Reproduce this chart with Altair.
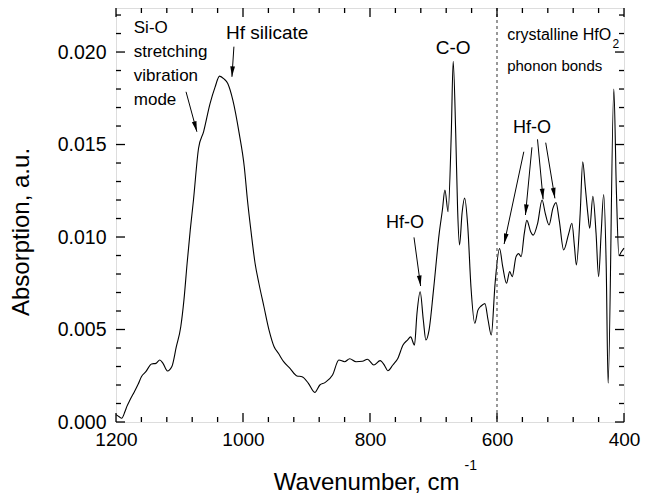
import math
import altair as alt
import pandas as pd

# ---- spectrum (wavenumber cm^-1, absorption a.u.) ----
wavenumber = [1200, 1195, 1191, 1186, 1183, 1178, 1171, 1165, 1160, 1153, 1144, 1137, 1131, 1126,
              1119, 1112, 1105, 1098, 1093, 1088, 1083, 1078, 1070, 1062, 1052, 1044, 1037, 1030,
              1024, 1016, 1006, 998, 993, 987, 981, 975, 967, 959, 951, 944, 936, 926, 915, 907,
              897, 887, 879, 871, 859, 849, 840, 832, 822, 812, 804, 794, 784, 777, 772, 764, 756,
              748, 741, 736, 730, 726, 721, 716, 712, 707, 700, 691, 686, 682, 677, 672, 669, 665,
              662, 659, 655, 651, 646, 641, 635, 630, 625, 619, 614, 609, 603, 596, 591, 585, 580,
              576, 570, 566, 562, 557, 553, 547, 543, 536, 529, 524, 518, 512, 507, 502, 495, 487,
              482, 478, 475, 469, 465, 461, 457, 454, 449, 444, 440, 436, 432, 428, 425, 416, 412,
              408, 404, 400]
absorption_milli = [0.40, 0.28, 0.20, 0.55, 0.83, 1.19, 1.64, 2.05, 2.45, 2.72, 3.14, 3.17, 3.35, 3.17,
                    2.76, 3.00, 4.07, 5.15, 6.6, 8.58, 10.4, 12.0, 14.8, 15.7, 17.2, 18.1, 18.7, 18.55,
                    18.3, 17.4, 15.6, 13.8, 12.0, 10.2, 8.58, 7.5, 6.23, 4.97, 4.07, 3.7, 3.26, 2.9, 2.49, 2.45,
                    2.09, 1.6, 2.0, 2.13, 2.54, 3.35, 3.26, 3.42, 3.26, 3.28, 3.39, 3.08, 3.32, 3.05, 2.77, 3.08, 3.45,
                    4.16, 4.43, 4.6, 4.16, 5.88, 7.04, 5.5, 4.43, 4.97, 7.13, 10.2, 11.46, 12.54, 11.37, 15.6, 19.5, 15.6,
                    11.46, 9.57, 11.3, 12.1, 10.56, 7.3, 5.34, 6.05, 6.27, 6.4, 5.5, 4.7, 7.5, 9.38, 8.4, 7.5, 8.13,
                    7.86, 8.94, 9.1, 8.94, 10.2, 10.9, 10.29, 10.1, 10.74, 12.0, 11.28, 10.65, 11.55, 11.86, 10.9, 9.3, 10.2,
                    10.74, 9.48, 8.49, 11.28, 14.07, 12.72, 11.28, 10.47, 12.2, 10.2, 7.86, 10.2, 12.3, 8.4, 2.1, 18.0, 12.5,
                    9.0, 9.2, 9.4]

# ---- axes ----
x_domain = [1200, 400]
y_domain = [0, 0.02238]
x_major = [1200, 1000, 800, 600, 400]
x_minor = [v for v in range(1160, 400, -40) if v not in x_major]
y_major = [0.0, 0.005, 0.010, 0.015, 0.020]
y_minor = [round(i * 0.001, 3) for i in range(1, 23) if i % 5 != 0]

# ---- annotations ----
label_text = ["Si-O", "stretching", "vibration", "mode", "Hf silicate", "C-O", "Hf-O", "Hf-O",
              "crystalline HfO", "phonon bonds", "2"]
label_x = [1172, 1172, 1172, 1172, 962, 669, 745, 545, 584, 584, 418]
label_y = [0.0213, 0.0200, 0.0187, 0.01741, 0.02103, 0.0202, 0.01077, 0.01588, 0.02092, 0.01924, 0.02045]
label_size = [17, 17, 17, 17, 19, 19, 18, 18, 16, 15, 12]
label_align = ["left", "left", "left", "left", "center", "center", "center", "center", "left", "left", "left"]

arrow_x1 = [1089.7, 1014.3, 730.7, 557.8, 545.0, 536.2, 523.3]
arrow_y1 = [0.01785, 0.02029, 0.00998, 0.01461, 0.01485, 0.01528, 0.01510]
arrow_x2 = [1072.6, 1017.4, 720.3, 588.8, 555.2, 527.4, 508.8]
arrow_y2 = [0.01569, 0.01866, 0.00735, 0.00962, 0.01119, 0.01204, 0.01209]

W, H = 508, 414
FONT = "Liberation Sans"

spec = pd.DataFrame({"w": wavenumber, "a": [v / 1000 for v in absorption_milli]})

xs = alt.Scale(domain=x_domain, nice=False, zero=False)
ys = alt.Scale(domain=y_domain, nice=False, zero=False)

x_axis = alt.Axis(values=x_major, ticks=False, domain=False, grid=False, labelFontSize=19,
                  labelPadding=8, title=None, format="d", labelFont=FONT, labelColor="black",
                  labelFlush=False, labelOverlap=False)
y_axis = alt.Axis(values=y_major, ticks=False, domain=False, grid=False, labelFontSize=19.5,
                  labelPadding=10, title=None, format=".3f", labelFont=FONT, labelColor="black",
                  labelFlush=False, labelOverlap=False)

line = alt.Chart(spec).mark_line(color="black", strokeWidth=1.1, interpolate="monotone").encode(
    x=alt.X("w:Q", scale=xs, axis=x_axis),
    y=alt.Y("a:Q", scale=ys, axis=y_axis),
    order=alt.Order("w:Q", sort="descending"),
)

dashed = alt.Chart(pd.DataFrame({"w": [600]})).mark_rule(
    color="#555555", strokeDash=[3, 3], strokeWidth=1.2).encode(
    x=alt.X("w:Q", scale=xs), y=alt.value(0), y2=alt.value(H))

def xticks(vals, length):
    d = pd.DataFrame({"w": vals})
    b = alt.Chart(d).mark_rule(color="black", strokeWidth=1.3).encode(
        x=alt.X("w:Q", scale=xs), y=alt.value(H), y2=alt.value(H - length))
    t = alt.Chart(d).mark_rule(color="black", strokeWidth=1.3).encode(
        x=alt.X("w:Q", scale=xs), y=alt.value(0), y2=alt.value(length))
    return [b, t]

def yticks(vals, length):
    d = pd.DataFrame({"a": vals})
    l = alt.Chart(d).mark_rule(color="black", strokeWidth=1.3).encode(
        y=alt.Y("a:Q", scale=ys), x=alt.value(0), x2=alt.value(length))
    r = alt.Chart(d).mark_rule(color="black", strokeWidth=1.3).encode(
        y=alt.Y("a:Q", scale=ys), x=alt.value(W), x2=alt.value(W - length))
    return [l, r]

ticks = xticks(x_major, 9) + xticks(x_minor, 5) + yticks(y_major, 9) + yticks(y_minor, 5)

lab = pd.DataFrame({"t": label_text, "w": label_x, "a": label_y, "s": label_size, "al": label_align})
texts = []
for al in ["left", "center"]:
    sub = lab[lab["al"] == al]
    texts.append(alt.Chart(sub).mark_text(font=FONT, color="black", align=al, baseline="middle").encode(
        x=alt.X("w:Q", scale=xs), y=alt.Y("a:Q", scale=ys), text="t:N",
        size=alt.Size("s:Q", scale=None, legend=None)))

px_x = W / (x_domain[0] - x_domain[1])
px_y = H / (y_domain[1] - y_domain[0])
angles = []
for x1, y1, x2, y2 in zip(arrow_x1, arrow_y1, arrow_x2, arrow_y2):
    dxp = -(x2 - x1) * px_x
    dyp = -(y2 - y1) * px_y
    angles.append(math.degrees(math.atan2(dxp, -dyp)) % 360)
arr = pd.DataFrame({"x1": arrow_x1, "y1": arrow_y1, "x2": arrow_x2, "y2": arrow_y2, "ang": angles})
arrow_lines = alt.Chart(arr).mark_rule(color="black", strokeWidth=1).encode(
    x=alt.X("x1:Q", scale=xs), y=alt.Y("y1:Q", scale=ys), x2="x2:Q", y2="y2:Q")
arrow_heads = alt.Chart(arr).mark_point(
    shape="M0,0L0.45,2L-0.45,2Z", filled=True, color="black", opacity=1, size=110).encode(
    x=alt.X("x2:Q", scale=xs), y=alt.Y("y2:Q", scale=ys),
    angle=alt.Angle("ang:Q", scale=None))

xtitle = alt.Chart(pd.DataFrame({"t": ["Wavenumber, cm"]})).mark_text(
    font=FONT, fontSize=24, color="black", align="center", baseline="alphabetic").encode(
    x=alt.value(250.7), y=alt.value(482), text="t:N")
xsup = alt.Chart(pd.DataFrame({"t": ["-1"]})).mark_text(
    font=FONT, fontSize=14, color="black", align="left", baseline="alphabetic").encode(
    x=alt.value(348.5), y=alt.value(462), text="t:N")
ytitle = alt.Chart(pd.DataFrame({"t": ["Absorption, a.u."]})).mark_text(
    font=FONT, fontSize=24, color="black", align="center", baseline="middle", angle=270).encode(
    x=alt.value(-94), y=alt.value(224), text="t:N")

chart = alt.layer(line, dashed, *ticks, *texts, arrow_lines, arrow_heads, xtitle, xsup, ytitle).properties(
    width=W, height=H,
    autosize=alt.AutoSizeParams(type="none"),
    padding={"left": 108, "top": 0, "right": 17, "bottom": 74},
).configure_view(stroke="black", strokeWidth=1.6).configure(background="white")

chart.save("out.html", embed_options={"renderer": "svg", "actions": False})
